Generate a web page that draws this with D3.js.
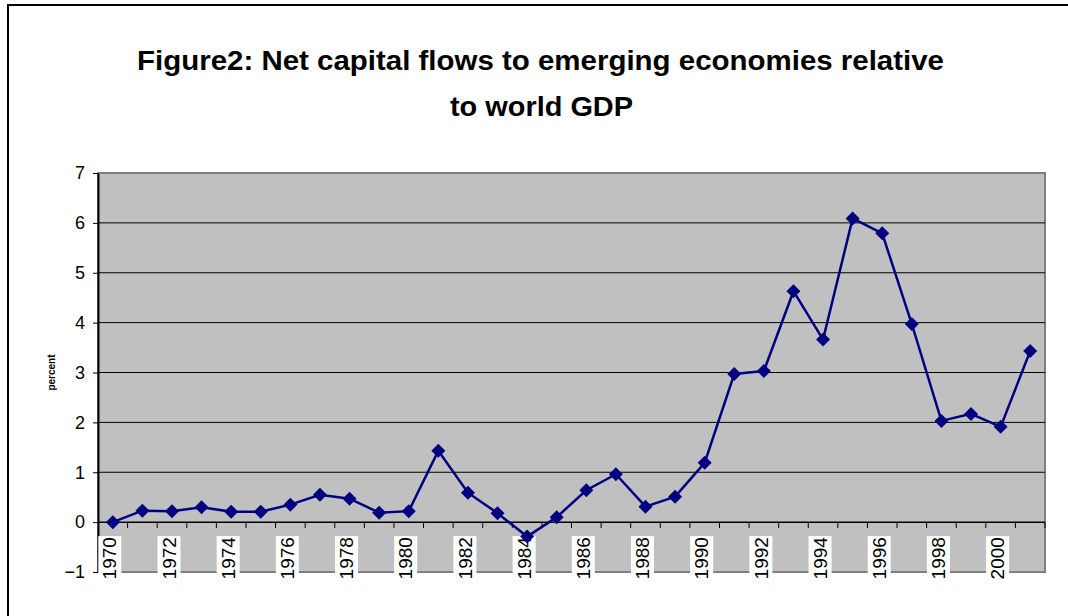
<!DOCTYPE html>
<html>
<head>
<meta charset="utf-8">
<script src="https://cdn.jsdelivr.net/npm/d3@7"></script>
<style>
  body { margin: 0; background: #fff; }
  svg { display: block; font-family: "Liberation Sans", Arial, sans-serif; }
</style>
</head>
<body>
<svg id="chart" width="1068" height="616"></svg>
<script>
// Data
const years = d3.range(1970, 2002);
const flows = [0.0, 0.23, 0.22, 0.30, 0.21, 0.21, 0.35, 0.55, 0.47, 0.19,
               0.22, 1.43, 0.59, 0.18, -0.29, 0.10, 0.64, 0.96, 0.31, 0.51,
               1.19, 2.97, 3.03, 4.63, 3.66, 6.09, 5.79, 3.97, 2.03, 2.17,
               1.91, 3.43];
const yTicks = [-1, 0, 1, 2, 3, 4, 5, 6, 7];
const titleLines = ["Figure2: Net capital flows to emerging economies relative", "to world GDP"];

const data = years.map((y, i) => ({ year: y, value: flows[i] }));

const svg = d3.select("#chart");
const plot = { left: 98, right: 1045, top: 173, bottom: 572 };

// Outer frame (runs off the window on right and bottom)
svg.append("rect")
    .attr("x", 8).attr("y", 5)
    .attr("width", 1100).attr("height", 700)
    .attr("fill", "none").attr("stroke", "#000").attr("stroke-width", 2);

// Title, stretched a little to the width of the original
const titleWidths = [807, 183];
svg.append("g")
    .selectAll("text")
    .data(titleLines)
    .join("text")
    .attr("x", (d, i) => i === 0 ? 137 : 450)
    .attr("y", (d, i) => i === 0 ? 70 : 116)
    .attr("font-size", "28px")
    .attr("font-weight", "bold")
    .attr("textLength", (d, i) => titleWidths[i])
    .attr("lengthAdjust", "spacingAndGlyphs")
    .text(d => d);

// Scales
const x = d3.scaleBand().domain(years).range([plot.left, plot.right]);
const y = d3.scaleLinear().domain([-1, 7]).range([plot.bottom, plot.top]);

// Plot area
svg.append("rect")
    .attr("x", plot.left).attr("y", plot.top)
    .attr("width", plot.right - plot.left).attr("height", plot.bottom - plot.top)
    .attr("fill", "#c0c0c0")
    .attr("stroke", "#808080").attr("stroke-width", 2);

// Gridlines
svg.append("g")
    .selectAll("line")
    .data(yTicks.filter(v => v > 0 && v < 7))
    .join("line")
    .attr("x1", plot.left).attr("x2", plot.right)
    .attr("y1", d => y(d)).attr("y2", d => y(d))
    .attr("stroke", "#000").attr("stroke-width", 1);

// Y axis
const yAxis = svg.append("g")
    .attr("transform", `translate(${plot.left},0)`)
    .call(d3.axisLeft(y).tickValues(yTicks).tickSize(5).tickSizeOuter(0).tickFormat(d3.format("d")));
yAxis.select(".domain").attr("stroke", "#000").attr("stroke-width", 2);
yAxis.selectAll(".tick line").attr("stroke", "#000");
yAxis.selectAll(".tick text")
    .attr("x", -13)
    .attr("font-size", "18px")
    .attr("font-family", "Liberation Sans, Arial, sans-serif")
    .attr("fill", "#000");

// Y label
svg.append("text")
    .attr("transform", `translate(55,${(plot.top + plot.bottom) / 2})rotate(-90)`)
    .attr("text-anchor", "middle")
    .attr("font-size", "10px")
    .attr("font-weight", "bold")
    .text("percent");

// X axis at zero
const y0 = y(0);
svg.append("line")
    .attr("x1", plot.left).attr("x2", plot.right)
    .attr("y1", y0).attr("y2", y0)
    .attr("stroke", "#000").attr("stroke-width", 1.5);

svg.append("g")
    .selectAll("line")
    .data(years)
    .join("line")
    .attr("x1", d => x(d) + x.bandwidth()).attr("x2", d => x(d) + x.bandwidth())
    .attr("y1", y0).attr("y2", y0 + 6)
    .attr("stroke", "#000").attr("stroke-width", 1);

// X labels every second year, with white boxes
const labelYears = years.filter(d => (d - 1970) % 2 === 0);
const xl = svg.append("g");
xl.selectAll("rect")
    .data(labelYears)
    .join("rect")
    .attr("x", d => x(d) + x.bandwidth() / 2 - 14.5)
    .attr("y", y0 + 14)
    .attr("width", 23)
    .attr("height", 48)
    .attr("fill", "#fff");
xl.selectAll("text")
    .data(labelYears)
    .join("text")
    .attr("transform", d => `translate(${x(d) + x.bandwidth() / 2 - 3},${y0 + 15})rotate(-90)`)
    .attr("text-anchor", "end")
    .attr("dy", "0.35em")
    .attr("font-size", "19px")
    .text(d => d);

// Line and markers
const line = d3.line().x(d => x(d.year) + x.bandwidth() / 2).y(d => y(d.value));
svg.append("path")
    .datum(data)
    .attr("d", line)
    .attr("fill", "none")
    .attr("stroke", "#000080")
    .attr("stroke-width", 2.5);

svg.append("g")
    .selectAll("path")
    .data(data)
    .join("path")
    .attr("transform", d => `translate(${x(d.year) + x.bandwidth() / 2},${y(d.value)})`)
    .attr("d", "M0,-7L7,0L0,7L-7,0Z")
    .attr("fill", "#000080");
</script>
</body>
</html>
